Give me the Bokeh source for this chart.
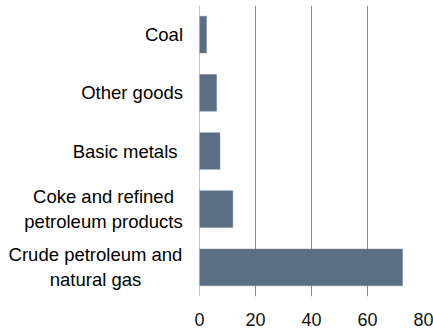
from bokeh.plotting import figure
from bokeh.layouts import row
from bokeh.models import FactorRange, ColumnDataSource, Span
from bokeh.core.properties import value
from bokeh.embed import file_html
from bokeh.resources import INLINE

categories = ["Coal", "Other goods", "Basic metals",
              "Coke and refined petroleum products",
              "Crude petroleum and natural gas"]
labels = ["Coal", "Other goods", "Basic metals",
          "Coke and refined\npetroleum products",
          "Crude petroleum and\nnatural gas"]
values = [2.5, 6.1, 7.3, 11.9, 72.5]
x_ticks = [0, 20, 40, 60, 80]

# label styles (alignment / pixel offsets from the label panel's right edge)
label_align = ["right", "right", "right", "center", "center"]
label_offset = [-10.5, -10.5, -16, -90, -98]

FONT = "Liberation Sans"
yr = FactorRange(factors=list(reversed(categories)))


def style_xaxis(fig, alpha=1.0):
    fig.xaxis.axis_line_color = None
    fig.xaxis.major_tick_line_color = None
    fig.xaxis.minor_tick_line_color = None
    fig.xaxis.major_label_text_font = FONT
    fig.xaxis.major_label_text_font_size = "18px"
    fig.xaxis.major_label_text_color = "#111111"
    fig.xaxis.major_label_text_alpha = alpha
    fig.xaxis.major_label_standoff = 10
    fig.outline_line_color = None
    fig.background_fill_color = "white"
    fig.border_fill_color = "white"
    fig.ygrid.grid_line_color = None


# main chart
p = figure(y_range=yr, x_range=(0, 80), frame_width=224, frame_height=291,
           min_border_left=6, min_border_right=10, min_border_top=5, min_border_bottom=20,
           output_backend="svg", toolbar_location=None)
src = ColumnDataSource(dict(cat=categories, val=values))
p.hbar(y="cat", right="val", left=0, height=0.63, source=src,
       fill_color="#5B6F84", line_color="#6E8196", line_width=0.5)
p.add_layout(Span(location=0, dimension="height", line_color="#8A8A8A", line_width=1))
p.yaxis.visible = False
p.xgrid.grid_line_color = "#8A8A8A"
p.xgrid.grid_line_width = 1
p.xaxis.ticker = x_ticks
style_xaxis(p)

# category label panel
lp = figure(y_range=yr, x_range=(-1, 0), frame_width=193, frame_height=291,
            min_border_left=0, min_border_right=0, min_border_top=5, min_border_bottom=20,
            output_backend="svg", toolbar_location=None)
lsrc = ColumnDataSource(dict(cat=categories, lab=labels, align=label_align,
                             off=label_offset, zero=[0] * len(categories)))
lp.text(x="zero", y="cat", text="lab", source=lsrc, x_offset="off",
        text_align="align", text_baseline="middle",
        text_font=value(FONT), text_font_size="18.5px", text_color="#000000",
        text_line_height=1.2)
lp.yaxis.visible = False
lp.xgrid.grid_line_color = None
lp.xaxis.ticker = [0]
style_xaxis(lp, alpha=0.0)

layout = row(lp, p, spacing=0)
open("out.html", "w").write(file_html(layout, INLINE))
